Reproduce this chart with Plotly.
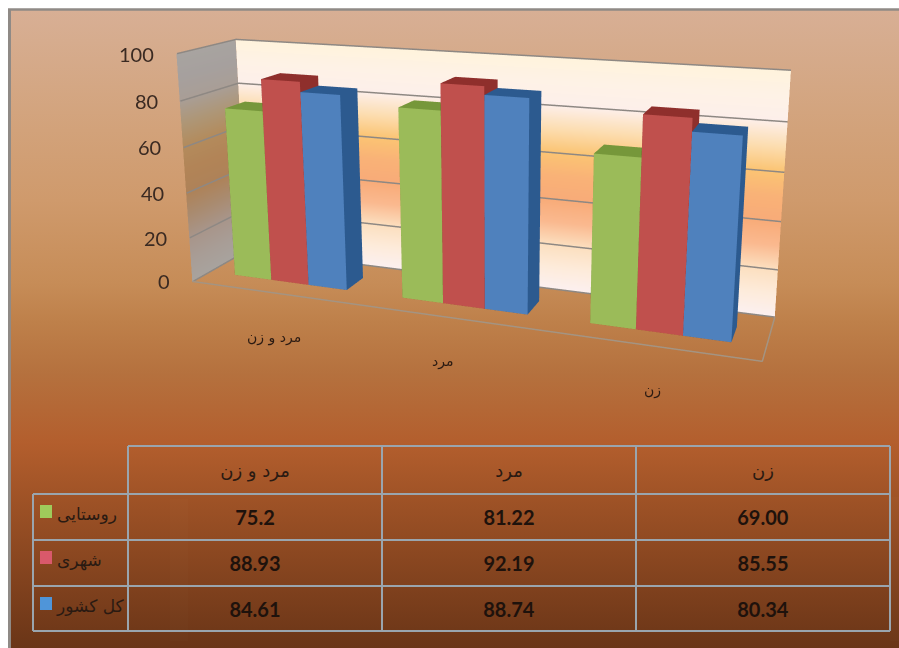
import base64
import plotly.graph_objects as go

categories = ["مرد و زن", "مرد", "زن"]
series_names = ["روستایی", "شهری", "کل کشور"]
rural = [75.2, 81.22, 69.00]
urban = [88.93, 92.19, 85.55]
national = [84.61, 88.74, 80.34]
rural_text = ["75.2", "81.22", "69.00"]
urban_text = ["88.93", "92.19", "85.55"]
national_text = ["84.61", "88.74", "80.34"]
z_ticks = [0, 20, 40, 60, 80, 100]

# camera and canvas: the drawing area is wider and taller than the window, so the
# perspective centre can sit where the reference's does; the page is shifted up by dy
eye = dict(x=1.5411, y=-4.0259, z=1.2011)
ctr = dict(x=0.0903, y=0.0697, z=0.1302)
up = dict(x=-0.0807, y=0.2253, z=0.9709)
aspect = dict(x=2.4315, y=0.4438, z=1)
h = 909.8
dy = 305
FW = 995
FH = 953
fx = lambda p: p / FW
fy = lambda p: 1 - (p + dy) / FH

flat = dict(ambient=1, diffuse=0, specular=0, roughness=1, fresnel=0)

def box(x0, x1, y0, y1, z, front, top, side):
    xs = [x0, x1, x1, x0, x0, x1, x1, x0]
    ys = [y0, y0, y1, y1, y0, y0, y1, y1]
    zs = [0, 0, 0, 0, z, z, z, z]
    i = [0, 0, 4, 4, 0, 0, 1, 1, 3, 3, 2, 2]
    j = [1, 2, 5, 6, 1, 5, 2, 6, 0, 4, 3, 7]
    k = [2, 3, 6, 7, 5, 4, 6, 5, 4, 7, 7, 6]
    fc = [top] * 4 + [front] * 2 + [side] * 6
    return go.Mesh3d(x=xs, y=ys, z=zs, i=i, j=j, k=k, facecolor=fc, flatshading=True, hoverinfo="skip", lighting=flat)

def strip(p0, p1, zs, colors):
    xs, ys, zz, vc, I, J, K = [], [], [], [], [], [], []
    for n, (z, c) in enumerate(zip(zs, colors)):
        xs += [p0[0], p1[0]]; ys += [p0[1], p1[1]]; zz += [z, z]; vc += [c, c]
        if n:
            a = 2 * n - 2
            I += [a, a]; J += [a + 1, a + 3]; K += [a + 3, a + 2]
    return go.Mesh3d(x=xs, y=ys, z=zz, i=I, j=J, k=K, vertexcolor=vc, hoverinfo="skip", lighting=flat)

wall_z = [100, 90, 80, 70, 60, 50, 40, 30, 20, 10, 0]
back_cols = ["#FFF3DC", "#FEF2E6", "#FDEFEA", "#FCDDB0", "#FBC473", "#F9B277", "#F8AB78", "#FAB98F", "#FCDFBF", "#FDEBDA", "#FCF0F0"]
side_cols = ["#A8A4A0", "#A6A09E", "#A99E96", "#AE9676", "#B38B5C", "#B28457", "#AE8258", "#A98B70", "#A8958A", "#A89D96", "#A8A39E"]

fig = go.Figure()
fig.add_trace(strip((0, 1), (3, 1), wall_z, back_cols))
fig.add_trace(strip((0, 0), (0, 1), wall_z, side_cols))
for t in z_ticks:
    fig.add_trace(go.Scatter3d(x=[0.004, 0.004, 3], y=[0, .995, .995], z=[t, t, t], mode="lines",
                               line=dict(color="#8E8883", width=3), hoverinfo="skip"))
fig.add_trace(go.Scatter3d(x=[3, 3, 0, 0, 0], y=[.995, 0, 0, .995, 0], z=[0, 0, 0, 0, 0], mode="lines",
                           line=dict(color="#A49482", width=3), hoverinfo="skip"))
cols = [("#9BBB59", "#76973A", "#76973A"), ("#C0504D", "#8F2F2C", "#8F2F2C"), ("#4F81BD", "#2C5A8F", "#2C5A8F")]
for s, vals in enumerate([rural, urban, national]):
    for c, val in enumerate(vals):
        x0 = c + .16 + s * .68 / 3
        fig.add_trace(box(x0, x0 + .68 / 3, .3, .65, val, *cols[s]))

tick_ann = [dict(x=0, y=0, z=t, text=str(t), showarrow=False, xanchor="right", xshift=-20,
                 font=dict(family="Lato", size=20, color="#3A2A22")) for t in z_ticks]
cat_x = [.498, 1.45, 2.50]
cat_ann = [dict(x=p, y=0, z=0, text=c, showarrow=False, yshift=-45,
                font=dict(family="DejaVu Sans", size=14, color="#2A1A12")) for p, c in zip(cat_x, categories)]
scene = dict(xaxis=dict(range=[0, 3], visible=False), yaxis=dict(range=[0, 1], visible=False),
             zaxis=dict(range=[0, 100], visible=False), aspectmode="manual", aspectratio=aspect,
             annotations=tick_ann + cat_ann, camera=dict(eye=eye, center=ctr, up=up),
             domain=dict(x=[0, 1], y=[1 - h / FH, 1]), bgcolor="rgba(0,0,0,0)")

stops = [(0, "#D8AF95"), (.05, "#D6AC8E"), (.19, "#D2A27A"), (.30, "#CF9A6C"), (.43, "#C68C57"), (.49, "#BE804A"),
         (.57, "#B5713E"), (.68, "#B35E2D"), (.77, "#9E5226"), (.88, "#85441F"), (1, "#6A3517")]
svg = ("<svg xmlns='http://www.w3.org/2000/svg' width='100' height='100' preserveAspectRatio='none'><defs>"
       "<linearGradient id='g' x1='0' y1='0' x2='0' y2='1'>"
       + "".join(f"<stop offset='{o}' stop-color='{c}'/>" for o, c in stops)
       + "</linearGradient></defs><rect width='100' height='100' fill='url(#g)'/></svg>")
bg = "data:image/svg+xml;base64," + base64.b64encode(svg.encode()).decode()

def hline(x0, x1, y, c, w):
    return dict(type="line", xref="paper", yref="paper", x0=fx(x0), x1=fx(x1), y0=fy(y), y1=fy(y), line=dict(color=c, width=w))
def vline(x, y0, y1, c, w):
    return dict(type="line", xref="paper", yref="paper", x0=fx(x), x1=fx(x), y0=fy(y0), y1=fy(y1), line=dict(color=c, width=w))

line = "#9AA5AE"
shapes = [vline(9.5, 9, 648, "#8F8A86", 3), hline(8, FW, 9.5, "#8F8A86", 2.5)]
shapes += [hline(128, 890, 446, line, 2)] + [hline(33, 890, y, line, 2) for y in (494, 540, 586, 631)]
shapes += [vline(33, 494, 631, line, 2)] + [vline(x, 446, 631, line, 2) for x in (128, 382, 636, 890)]
for yy, c in [(505, "#9FCB5B"), (551, "#D9596B"), (597, "#4F95D9")]:
    shapes.append(dict(type="rect", xref="paper", yref="paper", x0=fx(40), x1=fx(52), y0=fy(yy), y1=fy(yy + 13), fillcolor=c, line_width=0))

clear = "rgba(0,0,0,0)"
fig.add_trace(go.Table(domain=dict(x=[fx(128), fx(890)], y=[fy(641), fy(455)]), columnwidth=[254, 254, 254],
    header=dict(values=categories, height=42, fill_color=clear, line=dict(color=clear, width=0), align="center",
                font=dict(family="DejaVu Sans", size=18, color="#2A1A12")),
    cells=dict(values=[[f"<b>{a}</b>", f"<b>{b}</b>", f"<b>{c}</b>"] for a, b, c in zip(rural_text, urban_text, national_text)],
               height=46, fill_color=clear, line=dict(color=clear, width=0), align="center",
               font=dict(family="Lato", size=20, color="#1E120C"))))
fig.add_trace(go.Table(domain=dict(x=[fx(49), fx(170)], y=[fy(641), fy(455)]), columnwidth=[121],
    header=dict(values=[""], height=44, fill_color=clear, line=dict(color=clear, width=0)),
    cells=dict(values=[series_names], height=46, fill_color=clear, line=dict(color=clear, width=0), align="left",
               font=dict(family="DejaVu Sans", size=17, color="#2A1A12"))))

fig.update_layout(width=FW, height=FH, margin=dict(l=0, r=0, t=0, b=0), scene=scene, showlegend=False,
                  paper_bgcolor="white", shapes=shapes,
                  images=[dict(source=bg, xref="paper", yref="paper", x=fx(9), y=fy(9), sizex=(FW - 9) / FW, sizey=639 / FH,
                               sizing="stretch", layer="below", xanchor="left", yanchor="top")])
fig.write_html("out.html", config=dict(displayModeBar=False),
               post_script=f"document.documentElement.style.overflow='hidden';document.body.style.margin='0';document.body.style.marginTop='-{dy}px';")
